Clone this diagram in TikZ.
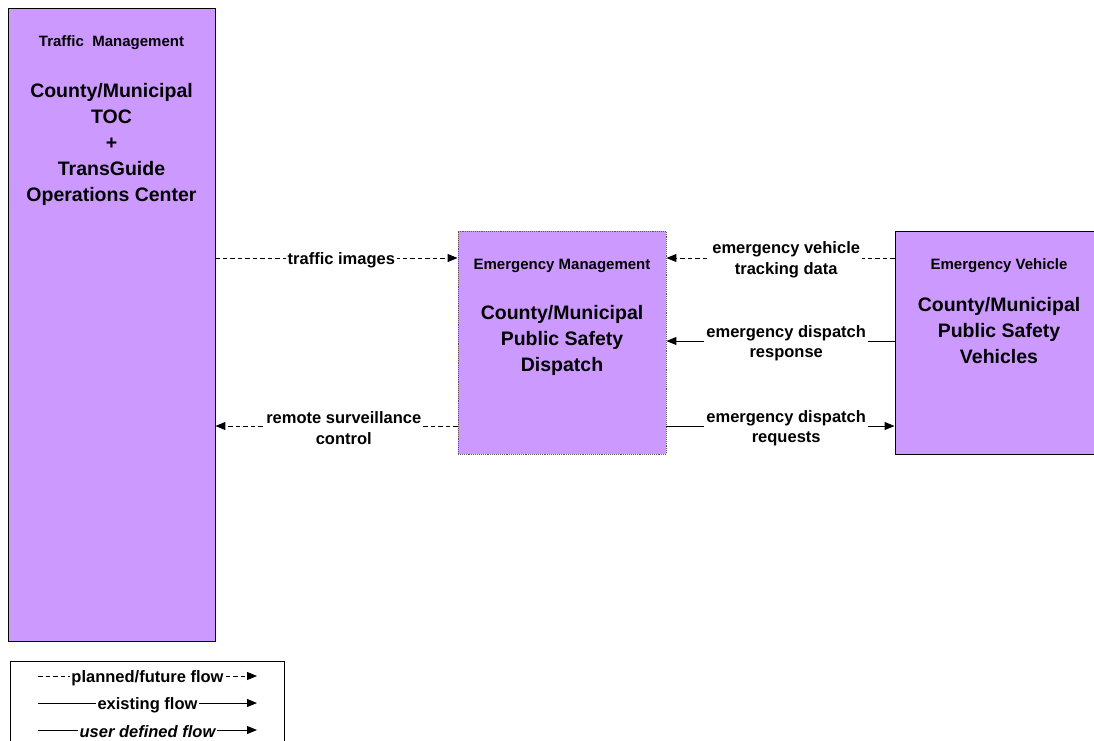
\documentclass[tikz,border=0pt]{standalone}
\usepackage{fontspec}
\setmainfont{Liberation Sans}
\usetikzlibrary{arrows.meta,positioning}
\definecolor{lila}{RGB}{204,153,255}
\tikzset{
  blk/.style={draw,fill=lila,inner sep=0pt,line width=0.9pt},
  ttl/.style={font=\fontsize{15}{18}\selectfont\bfseries},
  big/.style={font=\fontsize{19.5}{26}\selectfont\bfseries,align=center,anchor=north,inner sep=0pt},
  flow/.style={line width=1pt,-{Triangle[length=10pt,width=8pt]}},
  plan/.style={flow,dash pattern=on 4.5pt off 3pt},
  lbl/.style={fill=white,align=center,inner sep=2pt,yshift=-2pt,font=\fontsize{16.5}{20.5}\selectfont\bfseries},
}

\begin{document}
\begin{tikzpicture}[x=1pt,y=-1pt]
  \useasboundingbox (0,0) rectangle (1094,740);
  % the three centres
  \node[blk,minimum width=207pt,minimum height=633pt] (tm) at (111.5,324.5) {};
  \node[blk,draw=gray!70!black,densely dotted,minimum width=208pt,minimum height=223pt] (em) at (562,342.5) {};
  \node[blk,minimum width=208pt,minimum height=223pt] (ev) at (999,342.5) {};
  \node[ttl] at (111.5,43) {Traffic~~Management};
  \node[big] at (111.5,83) {County/Municipal\\TOC\\+\\TransGuide\\Operations Center};
  \node[ttl] at (562,266) {Emergency Management};
  \node[big] at (562,305) {County/Municipal\\Public Safety\\Dispatch};
  \node[ttl] at (999,266) {Emergency Vehicle};
  \node[big] at (999,297) {County/Municipal\\Public Safety\\Vehicles};
  % flows
  \draw[plan] (tm.east |- 0,258) -- node[lbl,pos=0.52] {traffic images} (em.west |- 0,258);
  \draw[plan] (em.west |- 0,426) -- node[lbl,pos=0.47] {remote surveillance\\control} (tm.east |- 0,426);
  \draw[plan] (ev.west |- 0,258) -- node[lbl,pos=0.475] {emergency vehicle\\tracking data} (em.east |- 0,258);
  \draw[flow] (ev.west |- 0,341) -- node[lbl,pos=0.475] {emergency dispatch\\response} (em.east |- 0,341);
  \draw[flow] (em.east |- 0,426) -- node[lbl,pos=0.525] {emergency dispatch\\requests} (ev.west |- 0,426);
  % legend
  \draw[line width=0.9pt] (10,750) -- (10,661) -- (284,661) -- (284,750);
  \coordinate (p1) at (38,676); \coordinate (p2) at (257,676);
  \coordinate (e1) at (38,703); \coordinate (e2) at (257,703);
  \coordinate (u1) at (38,730); \coordinate (u2) at (257,730);
  \draw[plan] (p1) -- node[lbl,inner sep=1.5pt] {planned/future flow} (p2);
  \draw[flow] (e1) -- node[lbl,inner sep=1.5pt] {existing flow} (e2);
  \draw[flow] (u1) -- node[lbl,inner sep=1.5pt,font=\fontsize{16.5}{20.5}\selectfont\bfseries\itshape] {user defined flow} (u2);
\end{tikzpicture}
\end{document}
